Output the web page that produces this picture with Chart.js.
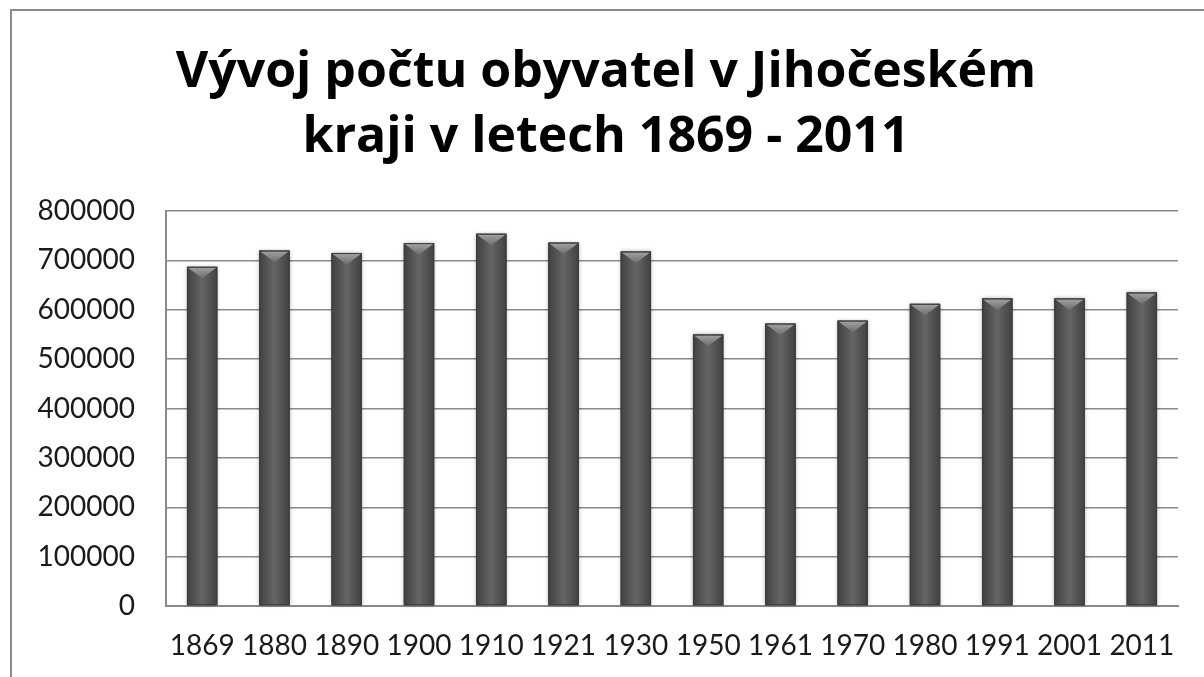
<!DOCTYPE html>
<html>
<head>
<meta charset="utf-8">
<script src="https://cdn.jsdelivr.net/npm/chart.js@4"></script>
<style>
  body { margin: 0; background: #fff; overflow: hidden; }
  #frame { position: absolute; left: 10px; top: 9px; width: 1300px; height: 800px; border: 2px solid #8a8a8a; }
  #wrap { position: absolute; left: 0; top: 0; width: 1204px; height: 677px; }
</style>
</head>
<body>
<div id="frame"></div>
<div id="wrap"><canvas id="myChart"></canvas></div>
<script>
var years = ["1869","1880","1890","1900","1910","1921","1930","1950","1961","1970","1980","1991","2001","2011"];
var population = [687000, 720000, 715000, 735000, 754000, 736000, 718000, 550000, 572000, 578000, 612000, 623000, 623000, 635000];
var titleLines = ["Vývoj počtu obyvatel v Jihočeském", "kraji v letech 1869 - 2011"];

// shaded columns with the little bevel on top, drawn over the library's bars
const bevelBars = {
  id: 'bevelBars',
  afterDatasetsDraw(chart) {
    const ctx = chart.ctx;
    chart.getDatasetMeta(0).data.forEach(function (bar) {
      var w = bar.width, left = bar.x - w / 2, top = bar.y, h = bar.base - bar.y;
      ctx.save();
      ctx.shadowColor = 'rgba(0,0,0,0.3)';
      ctx.shadowBlur = 4;
      var g = ctx.createLinearGradient(left, 0, left + w, 0);
      g.addColorStop(0, '#404040');
      g.addColorStop(0.5, '#666666');
      g.addColorStop(1, '#404040');
      ctx.fillStyle = g;
      ctx.fillRect(left, top, w, h);
      ctx.restore();

      ctx.save();
      var t = ctx.createLinearGradient(0, top, 0, top + w * 0.38);
      t.addColorStop(0, '#a4a4a4');
      t.addColorStop(1, '#6e6e6e');
      ctx.fillStyle = t;
      ctx.beginPath();
      ctx.moveTo(left + 1, top + 1);
      ctx.lineTo(left + w - 1, top + 1);
      ctx.lineTo(bar.x, top + w * 0.38);
      ctx.closePath();
      ctx.fill();
      ctx.strokeStyle = '#3c3c3c';
      ctx.lineWidth = 1;
      ctx.strokeRect(left + 0.5, top + 0.5, w - 1, h - 1);
      ctx.restore();
    });
  }
};

const data = {
  labels: years,
  datasets: [{
    label: 'Počet obyvatel',
    data: population,
    backgroundColor: '#555555',
    borderWidth: 0,
    categoryPercentage: 1,
    barPercentage: 0.42
  }]
};

const config = {
  type: 'bar',
  data: data,
  plugins: [bevelBars],
  options: {
    responsive: false,
    animation: false,
    layout: { padding: { left: 34, right: 26, top: 0, bottom: 0 } },
    plugins: {
      legend: { display: false },
      tooltip: { enabled: false },
      title: {
        display: true,
        text: titleLines,
        color: '#000',
        font: { family: 'Open Sans', size: 50, weight: 'bold', lineHeight: 1.3 },
        padding: { top: 40, bottom: 41 }
      }
    },
    scales: {
      x: {
        grid: { display: false, drawTicks: false },
        border: { color: '#8a8a8a', width: 2 },
        ticks: { color: '#1a1a1a', font: { family: 'Lato', size: 28 }, padding: 23, maxRotation: 0, autoSkip: false },
        afterFit: function (scale) { scale.height = 71; }
      },
      y: {
        min: 0,
        max: 800000,
        grid: { color: '#8a8a8a', lineWidth: 1.5, drawTicks: false },
        border: { color: '#8a8a8a', width: 2 },
        ticks: {
          stepSize: 100000,
          color: '#1a1a1a',
          font: { family: 'Lato', size: 28 },
          padding: 31,
          callback: function (value) { return String(value); }
        },
        afterFit: function (scale) { scale.width = 132; }
      }
    }
  }
};

const canvas = document.getElementById('myChart');
canvas.width = 1204;
canvas.height = 677;
const myChart = new Chart(canvas, config);
</script>
</body>
</html>
